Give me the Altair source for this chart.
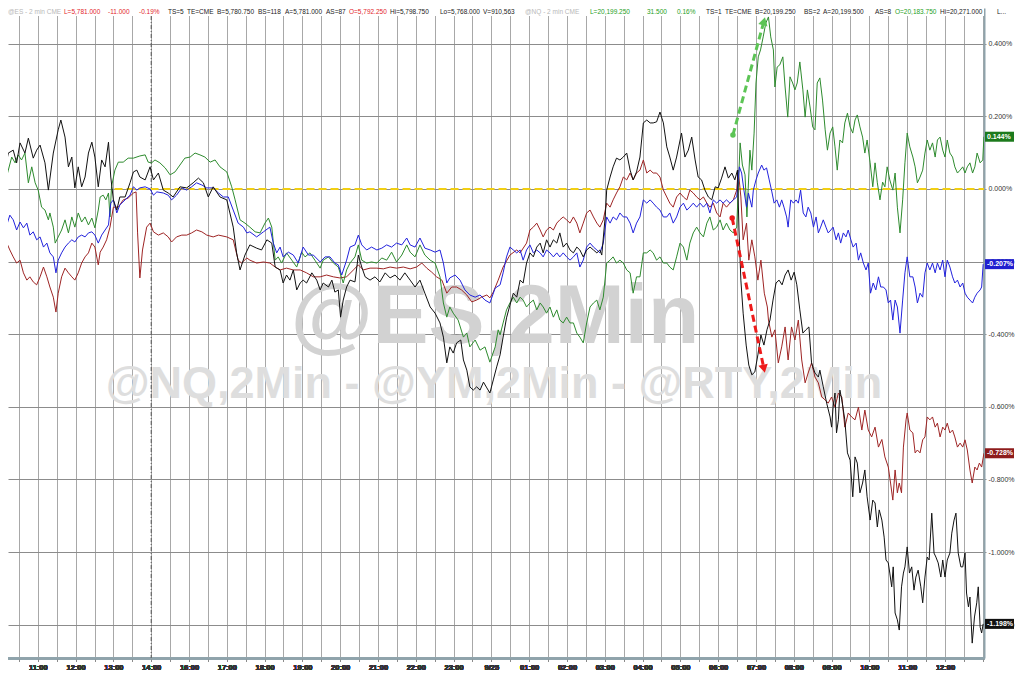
import json
import altair as alt
import pandas as pd

# ---------------- data (time in session hours from 10:00, values in %) ----------------
hour_labels = ["11:00", "12:00", "13:00", "14:00", "16:00", "17:00", "18:00", "19:00", "20:00",
               "21:00", "22:00", "23:00", "9/25", "01:00", "02:00", "03:00", "04:00", "05:00",
               "06:00", "07:00", "08:00", "09:00", "10:00", "11:00", "12:00"]
y_ticks = [0.4, 0.2, 0.0, -0.2, -0.4, -0.6, -0.8, -1.0, -1.2]

rty = [(0.00,-0.003),(0.09,0.033),(0.22,0.099),(0.35,0.107),(0.44,0.072),(0.53,0.127),(0.66,0.099),(0.75,0.140),(0.88,0.085),(0.97,0.107),(1.06,0.121),(1.19,0.072),(1.28,-0.003),(1.41,0.099),(1.54,0.163),(1.61,0.190),(1.72,0.143),(1.81,0.061),(1.90,0.088),(1.98,0.003),(2.07,0.061),(2.16,0.006),(2.25,0.033),(2.34,0.099),(2.43,0.129),(2.51,0.088),(2.60,0.006),(2.69,0.080),(2.78,0.061),(2.87,0.129),(2.93,0.033),(3.00,-0.030),(3.09,-0.058),(3.17,-0.022),(3.31,-0.022),(3.44,0.017),(3.53,0.047),(3.62,0.052),(3.70,0.033),(3.84,0.025),(3.97,0.061),(4.06,0.025),(4.19,0.044),(4.32,-0.003),(4.45,-0.011),(4.58,-0.022),(4.76,0.006),(4.94,0.003),(5.11,0.017),(5.25,0.030),(5.38,0.017),(5.51,-0.022),(5.64,0.006),(5.82,-0.022),(6.00,-0.030),(6.17,-0.105),(6.26,-0.176),(6.35,-0.223),(6.48,-0.182),(6.61,-0.154),(6.79,-0.163),(6.92,-0.168),(7.06,-0.140),(7.19,-0.149),(7.28,-0.215),(7.41,-0.223),(7.49,-0.259),(7.58,-0.237),(7.67,-0.251),(7.76,-0.223),(7.85,-0.278),(7.94,-0.259),(8.02,-0.251),(8.11,-0.259),(8.25,-0.231),(8.38,-0.251),(8.47,-0.278),(8.55,-0.259),(8.69,-0.270),(8.78,-0.251),(8.86,-0.284),(8.95,-0.278),(9.01,-0.353),(9.08,-0.306),(9.17,-0.270),(9.26,-0.251),(9.39,-0.256),(9.48,-0.182),(9.57,-0.215),(9.66,-0.242),(9.79,-0.251),(9.92,-0.242),(10.05,-0.256),(10.19,-0.231),(10.32,-0.245),(10.45,-0.237),(10.58,-0.251),(10.71,-0.231),(10.85,-0.251),(10.98,-0.270),(11.11,-0.251),(11.24,-0.287),(11.38,-0.325),(11.51,-0.342),(11.64,-0.369),(11.73,-0.408),(11.82,-0.479),(11.90,-0.435),(11.99,-0.452),(12.08,-0.424),(12.19,-0.416),(12.26,-0.471),(12.35,-0.499),(12.43,-0.545),(12.52,-0.554),(12.61,-0.545),(12.70,-0.554),(12.79,-0.532),(12.88,-0.548),(12.96,-0.562),(13.05,-0.526),(13.14,-0.490),(13.23,-0.457),(13.31,-0.408),(13.40,-0.355),(13.49,-0.320),(13.58,-0.287),(13.67,-0.298),(13.76,-0.251),(13.84,-0.259),(13.93,-0.204),(14.02,-0.176),(14.11,-0.187),(14.20,-0.160),(14.29,-0.149),(14.37,-0.176),(14.46,-0.140),(14.55,-0.160),(14.64,-0.140),(14.73,-0.149),(14.81,-0.121),(14.90,-0.160),(14.99,-0.149),(15.08,-0.168),(15.17,-0.176),(15.26,-0.160),(15.34,-0.168),(15.43,-0.187),(15.52,-0.168),(15.61,-0.160),(15.70,-0.168),(15.79,-0.176),(15.87,-0.168),(15.92,-0.182),(16.01,-0.077),(16.05,-0.003),(16.14,0.033),(16.22,0.061),(16.31,0.085),(16.40,0.080),(16.49,0.088),(16.58,0.099),(16.67,0.052),(16.75,0.025),(16.84,0.047),(16.93,0.088),(17.02,0.182),(17.11,0.190),(17.20,0.182),(17.28,0.182),(17.37,0.185),(17.46,0.212),(17.55,0.182),(17.64,0.116),(17.72,0.088),(17.81,0.052),(17.90,0.088),(18.03,0.154),(18.12,0.088),(18.21,0.107),(18.30,0.143),(18.39,0.080),(18.47,0.033),(18.56,0.025),(18.65,-0.003),(18.74,-0.022),(18.83,-0.030),(18.92,0.006),(19.00,0.003),(19.09,0.030),(19.18,0.061),(19.27,0.030),(19.36,0.044),(19.44,0.025),(19.51,0.052),(19.55,-0.113),(19.60,-0.251),(19.66,-0.342),(19.74,-0.430),(19.81,-0.485),(19.89,-0.512),(19.97,-0.504),(20.05,-0.457),(20.13,-0.402),(20.21,-0.430),(20.29,-0.388),(20.37,-0.361),(20.45,-0.306),(20.53,-0.259),(20.61,-0.251),(20.69,-0.264),(20.77,-0.237),(20.85,-0.223),(20.93,-0.251),(21.01,-0.229),(21.08,-0.264),(21.16,-0.333),(21.24,-0.397),(21.32,-0.388),(21.40,-0.380),(21.47,-0.479),(21.56,-0.507),(21.65,-0.518),(21.69,-0.499),(21.78,-0.545),(21.87,-0.590),(21.96,-0.628),(22.00,-0.656),(22.04,-0.601),(22.09,-0.562),(22.13,-0.672),(22.18,-0.636),(22.22,-0.554),(22.27,-0.581),(22.35,-0.636),(22.42,-0.727),(22.49,-0.747),(22.56,-0.848),(22.62,-0.738),(22.68,-0.755),(22.75,-0.837),(22.82,-0.810),(22.88,-0.774),(22.94,-0.848),(23.02,-0.912),(23.09,-0.857),(23.15,-0.865),(23.21,-0.931),(23.26,-0.884),(23.33,-0.912),(23.39,-0.959),(23.44,-1.022),(23.50,-1.030),(23.54,-1.058),(23.59,-1.096),(23.63,-1.041),(23.68,-1.168),(23.74,-1.187),(23.79,-1.215),(23.85,-1.096),(23.90,-1.058),(23.94,-1.041),(24.00,-0.986),(24.06,-1.058),(24.12,-1.041),(24.18,-1.105),(24.23,-1.069),(24.29,-1.050),(24.36,-1.096),(24.41,-1.140),(24.47,-1.069),(24.53,-1.014),(24.58,-1.022),(24.65,-0.893),(24.71,-1.003),(24.76,-1.014),(24.82,-1.030),(24.89,-1.069),(24.94,-1.022),(25.00,-1.069),(25.06,-1.022),(25.13,-1.003),(25.18,-0.948),(25.24,-0.912),(25.29,-0.893),(25.35,-1.003),(25.42,-1.041),(25.47,-1.041),(25.53,-1.003),(25.57,-1.113),(25.62,-1.151),(25.66,-1.124),(25.72,-1.251),(25.78,-1.179),(25.84,-1.140),(25.88,-1.096),(25.93,-1.207),(25.97,-1.223),(26.01,-1.198)]

nq = [(0.00,0.003),(0.13,0.017),(0.22,0.052),(0.31,0.088),(0.40,0.072),(0.48,0.094),(0.57,0.080),(0.66,0.099),(0.75,0.017),(0.84,0.061),(0.93,0.017),(1.01,-0.003),(1.10,-0.050),(1.19,-0.058),(1.28,-0.085),(1.32,-0.066),(1.41,-0.105),(1.46,-0.149),(1.54,-0.132),(1.63,-0.113),(1.72,-0.085),(1.81,-0.121),(1.90,-0.077),(1.98,-0.105),(2.07,-0.066),(2.16,-0.091),(2.25,-0.077),(2.34,-0.099),(2.43,-0.080),(2.51,-0.107),(2.60,-0.058),(2.65,-0.022),(2.73,-0.017),(2.80,-0.030),(2.87,-0.011),(2.91,-0.077),(2.95,0.006),(3.04,0.052),(3.13,0.074),(3.26,0.074),(3.39,0.085),(3.53,0.085),(3.70,0.091),(3.84,0.094),(3.92,0.074),(4.01,0.072),(4.10,0.080),(4.23,0.072),(4.37,0.058),(4.50,0.039),(4.63,0.047),(4.76,0.066),(4.89,0.085),(5.03,0.088),(5.16,0.099),(5.29,0.094),(5.42,0.088),(5.56,0.074),(5.69,0.080),(5.82,0.061),(6.00,0.047),(6.13,0.006),(6.22,-0.030),(6.35,-0.085),(6.48,-0.094),(6.61,-0.105),(6.75,-0.118),(6.88,-0.121),(7.01,-0.094),(7.10,-0.080),(7.19,-0.105),(7.28,-0.196),(7.36,-0.187),(7.45,-0.204),(7.58,-0.176),(7.72,-0.196),(7.85,-0.215),(7.98,-0.174),(8.07,-0.187),(8.20,-0.176),(8.33,-0.196),(8.47,-0.218),(8.55,-0.196),(8.69,-0.187),(8.82,-0.204),(8.95,-0.215),(9.08,-0.259),(9.17,-0.223),(9.26,-0.204),(9.39,-0.187),(9.48,-0.154),(9.57,-0.196),(9.70,-0.204),(9.83,-0.201),(9.97,-0.204),(10.10,-0.190),(10.23,-0.196),(10.36,-0.174),(10.49,-0.201),(10.63,-0.182),(10.76,-0.154),(10.85,-0.174),(10.98,-0.187),(11.11,-0.154),(11.24,-0.182),(11.38,-0.196),(11.51,-0.204),(11.64,-0.242),(11.73,-0.314),(11.82,-0.353),(11.90,-0.325),(11.99,-0.342),(12.12,-0.361),(12.26,-0.408),(12.35,-0.397),(12.43,-0.435),(12.57,-0.416),(12.70,-0.444),(12.83,-0.435),(12.96,-0.477),(13.10,-0.435),(13.18,-0.388),(13.23,-0.402),(13.31,-0.369),(13.40,-0.333),(13.49,-0.314),(13.58,-0.298),(13.67,-0.314),(13.76,-0.298),(13.84,-0.306),(13.93,-0.325),(14.02,-0.314),(14.11,-0.306),(14.20,-0.333),(14.29,-0.314),(14.37,-0.325),(14.46,-0.342),(14.55,-0.325),(14.64,-0.353),(14.73,-0.333),(14.81,-0.361),(14.90,-0.369),(14.99,-0.353),(15.08,-0.369),(15.17,-0.369),(15.26,-0.397),(15.34,-0.408),(15.43,-0.424),(15.52,-0.369),(15.61,-0.325),(15.70,-0.314),(15.79,-0.306),(15.87,-0.333),(15.96,-0.298),(16.05,-0.204),(16.14,-0.196),(16.22,-0.187),(16.31,-0.204),(16.40,-0.196),(16.49,-0.204),(16.58,-0.223),(16.67,-0.231),(16.75,-0.287),(16.84,-0.242),(16.93,-0.242),(17.02,-0.176),(17.11,-0.176),(17.20,-0.168),(17.28,-0.176),(17.37,-0.196),(17.46,-0.187),(17.55,-0.204),(17.64,-0.204),(17.72,-0.215),(17.81,-0.223),(17.90,-0.187),(17.99,-0.149),(18.08,-0.160),(18.17,-0.196),(18.25,-0.149),(18.34,-0.121),(18.43,-0.105),(18.52,-0.121),(18.61,-0.132),(18.70,-0.094),(18.78,-0.077),(18.87,-0.113),(18.96,-0.105),(19.05,-0.085),(19.13,-0.113),(19.22,-0.094),(19.31,-0.113),(19.40,-0.121),(19.49,-0.105),(19.58,0.127),(19.64,0.066),(19.71,0.039),(19.76,-0.077),(19.84,0.107),(19.89,0.052),(19.95,0.154),(20.00,0.292),(20.06,0.364),(20.12,0.383),(20.19,0.419),(20.26,0.457),(20.33,0.474),(20.39,0.419),(20.46,0.383),(20.50,0.281),(20.56,0.336),(20.63,0.342),(20.71,0.364),(20.77,0.281),(20.84,0.198),(20.90,0.309),(20.97,0.292),(21.03,0.273),(21.09,0.292),(21.16,0.350),(21.24,0.273),(21.30,0.198),(21.36,0.273),(21.43,0.226),(21.50,0.171),(21.56,0.163),(21.62,0.292),(21.69,0.306),(21.76,0.245),(21.83,0.163),(21.89,0.107),(21.96,0.154),(22.03,0.171),(22.09,0.116),(22.15,0.052),(22.22,0.135),(22.29,0.127),(22.35,0.182),(22.42,0.209),(22.49,0.171),(22.56,0.154),(22.62,0.190),(22.68,0.204),(22.75,0.171),(22.82,0.143),(22.88,0.099),(22.94,0.135),(23.02,0.072),(23.09,0.006),(23.15,0.072),(23.21,0.017),(23.28,-0.030),(23.35,0.019),(23.41,0.006),(23.47,0.061),(23.54,0.025),(23.62,-0.003),(23.68,0.044),(23.74,-0.050),(23.81,-0.121),(23.88,-0.030),(23.94,0.072),(24.00,0.154),(24.07,0.116),(24.15,0.088),(24.21,0.061),(24.27,0.017),(24.34,0.033),(24.41,0.052),(24.47,0.099),(24.53,0.135),(24.60,0.107),(24.67,0.127),(24.74,0.088),(24.80,0.135),(24.87,0.143),(24.94,0.107),(25.00,0.088),(25.06,0.135),(25.13,0.099),(25.20,0.088),(25.26,0.061),(25.33,0.044),(25.40,0.052),(25.47,0.061),(25.53,0.044),(25.59,0.061),(25.66,0.072),(25.73,0.044),(25.79,0.061),(25.85,0.099),(25.93,0.072),(26.00,0.080),(26.03,0.144)]

es = [(0.00,-0.140),(0.09,-0.121),(0.18,-0.099),(0.26,-0.072),(0.35,-0.085),(0.44,-0.113),(0.53,-0.091),(0.62,-0.107),(0.71,-0.094),(0.79,-0.127),(0.88,-0.118),(0.97,-0.140),(1.06,-0.132),(1.15,-0.160),(1.24,-0.149),(1.32,-0.176),(1.41,-0.187),(1.48,-0.231),(1.54,-0.196),(1.63,-0.176),(1.72,-0.160),(1.81,-0.149),(1.90,-0.140),(1.98,-0.146),(2.07,-0.132),(2.16,-0.127),(2.25,-0.132),(2.34,-0.121),(2.43,-0.118),(2.51,-0.127),(2.60,-0.149),(2.69,-0.127),(2.78,-0.113),(2.87,-0.099),(2.93,-0.039),(3.00,-0.030),(3.09,-0.066),(3.17,-0.044),(3.31,-0.030),(3.44,-0.017),(3.53,0.006),(3.62,-0.003),(3.70,0.003),(3.84,0.006),(3.97,0.000),(4.06,-0.017),(4.15,-0.008),(4.32,-0.011),(4.45,-0.017),(4.54,-0.030),(4.67,-0.017),(4.81,0.003),(4.94,-0.003),(5.07,0.006),(5.20,0.017),(5.34,0.011),(5.47,0.003),(5.64,0.003),(5.78,-0.011),(5.91,-0.022),(6.04,-0.022),(6.17,-0.058),(6.30,-0.094),(6.44,-0.105),(6.53,-0.121),(6.61,-0.118),(6.79,-0.132),(6.97,-0.118),(7.14,-0.105),(7.23,-0.149),(7.32,-0.176),(7.41,-0.160),(7.49,-0.187),(7.63,-0.174),(7.76,-0.182),(7.89,-0.204),(8.02,-0.160),(8.16,-0.182),(8.29,-0.182),(8.47,-0.201),(8.60,-0.187),(8.73,-0.187),(8.86,-0.204),(8.95,-0.209),(9.04,-0.237),(9.17,-0.196),(9.26,-0.160),(9.39,-0.154),(9.48,-0.127),(9.57,-0.154),(9.70,-0.168),(9.83,-0.160),(9.97,-0.168),(10.10,-0.163),(10.23,-0.154),(10.36,-0.160),(10.49,-0.149),(10.63,-0.154),(10.76,-0.135),(10.85,-0.154),(10.98,-0.160),(11.11,-0.135),(11.24,-0.163),(11.38,-0.168),(11.51,-0.174),(11.64,-0.168),(11.73,-0.204),(11.82,-0.259),(11.90,-0.245),(12.04,-0.237),(12.17,-0.251),(12.30,-0.278),(12.43,-0.292),(12.57,-0.298),(12.70,-0.292),(12.83,-0.306),(12.96,-0.314),(13.10,-0.273),(13.23,-0.264),(13.31,-0.231),(13.40,-0.187),(13.49,-0.160),(13.58,-0.168),(13.67,-0.176),(13.76,-0.168),(13.84,-0.196),(13.93,-0.168),(14.02,-0.154),(14.11,-0.176),(14.20,-0.168),(14.29,-0.176),(14.37,-0.187),(14.46,-0.168),(14.55,-0.176),(14.64,-0.187),(14.73,-0.176),(14.81,-0.187),(14.90,-0.176),(14.99,-0.187),(15.08,-0.196),(15.17,-0.187),(15.26,-0.176),(15.34,-0.215),(15.43,-0.196),(15.52,-0.160),(15.61,-0.149),(15.70,-0.160),(15.79,-0.168),(15.87,-0.176),(15.96,-0.149),(16.05,-0.077),(16.14,-0.094),(16.22,-0.077),(16.31,-0.085),(16.40,-0.066),(16.49,-0.077),(16.58,-0.077),(16.67,-0.094),(16.75,-0.121),(16.84,-0.094),(16.93,-0.077),(17.02,-0.030),(17.11,-0.039),(17.20,-0.030),(17.28,-0.039),(17.37,-0.050),(17.46,-0.058),(17.55,-0.077),(17.64,-0.077),(17.72,-0.066),(17.81,-0.094),(17.90,-0.077),(17.99,-0.050),(18.08,-0.039),(18.17,-0.058),(18.25,-0.050),(18.34,-0.039),(18.43,-0.050),(18.52,-0.039),(18.61,-0.050),(18.70,-0.039),(18.78,-0.066),(18.87,-0.030),(18.96,-0.039),(19.05,-0.030),(19.13,-0.039),(19.22,-0.030),(19.31,-0.039),(19.40,-0.030),(19.49,-0.022),(19.56,0.061),(19.62,0.044),(19.68,-0.003),(19.75,-0.050),(19.80,-0.011),(19.89,-0.050),(19.93,-0.003),(20.00,0.025),(20.06,0.044),(20.15,0.066),(20.21,0.052),(20.28,0.058),(20.35,0.025),(20.42,-0.008),(20.48,-0.039),(20.55,-0.030),(20.62,-0.050),(20.68,-0.030),(20.74,-0.050),(20.81,-0.077),(20.85,-0.105),(20.92,-0.030),(20.99,-0.039),(21.06,-0.030),(21.12,-0.039),(21.18,-0.003),(21.25,-0.066),(21.32,-0.077),(21.38,-0.050),(21.45,-0.066),(21.52,-0.105),(21.59,-0.077),(21.65,-0.121),(21.71,-0.105),(21.78,-0.085),(21.85,-0.105),(21.91,-0.121),(21.98,-0.113),(22.04,-0.105),(22.12,-0.140),(22.18,-0.121),(22.24,-0.149),(22.31,-0.121),(22.38,-0.132),(22.44,-0.113),(22.51,-0.140),(22.57,-0.160),(22.65,-0.149),(22.71,-0.196),(22.77,-0.176),(22.84,-0.204),(22.91,-0.223),(22.97,-0.204),(23.03,-0.287),(23.10,-0.259),(23.17,-0.278),(23.24,-0.242),(23.30,-0.270),(23.37,-0.270),(23.44,-0.278),(23.50,-0.314),(23.56,-0.306),(23.62,-0.361),(23.68,-0.306),(23.74,-0.325),(23.81,-0.397),(23.88,-0.306),(23.94,-0.231),(24.00,-0.187),(24.07,-0.242),(24.15,-0.242),(24.21,-0.270),(24.27,-0.314),(24.34,-0.287),(24.41,-0.298),(24.47,-0.231),(24.53,-0.204),(24.60,-0.223),(24.67,-0.204),(24.74,-0.231),(24.80,-0.204),(24.87,-0.223),(24.94,-0.196),(25.00,-0.242),(25.06,-0.196),(25.13,-0.215),(25.20,-0.242),(25.26,-0.259),(25.33,-0.251),(25.40,-0.270),(25.47,-0.259),(25.53,-0.287),(25.59,-0.298),(25.66,-0.306),(25.73,-0.314),(25.79,-0.298),(25.85,-0.287),(25.93,-0.278),(25.97,-0.270),(26.01,-0.207)]

ym = [(0.00,-0.215),(0.09,-0.187),(0.18,-0.149),(0.26,-0.168),(0.35,-0.187),(0.44,-0.204),(0.53,-0.196),(0.62,-0.231),(0.71,-0.251),(0.79,-0.242),(0.88,-0.256),(0.97,-0.264),(1.06,-0.242),(1.15,-0.215),(1.24,-0.242),(1.32,-0.270),(1.41,-0.298),(1.48,-0.339),(1.54,-0.287),(1.63,-0.242),(1.72,-0.218),(1.81,-0.231),(1.90,-0.242),(1.98,-0.251),(2.07,-0.231),(2.16,-0.204),(2.25,-0.187),(2.34,-0.176),(2.43,-0.149),(2.51,-0.160),(2.60,-0.209),(2.65,-0.174),(2.73,-0.160),(2.82,-0.140),(2.91,-0.105),(3.00,-0.050),(3.13,-0.050),(3.26,-0.030),(3.39,-0.025),(3.53,-0.011),(3.60,-0.008),(3.64,-0.121),(3.70,-0.245),(3.77,-0.168),(3.88,-0.105),(3.97,-0.094),(4.06,-0.118),(4.19,-0.127),(4.32,-0.121),(4.45,-0.132),(4.54,-0.146),(4.67,-0.132),(4.81,-0.127),(4.94,-0.127),(5.07,-0.121),(5.20,-0.113),(5.34,-0.118),(5.47,-0.127),(5.64,-0.132),(5.78,-0.127),(6.00,-0.132),(6.17,-0.140),(6.30,-0.196),(6.39,-0.204),(6.53,-0.190),(6.61,-0.196),(6.79,-0.204),(6.97,-0.201),(7.14,-0.204),(7.28,-0.215),(7.41,-0.223),(7.58,-0.218),(7.76,-0.223),(7.94,-0.223),(8.11,-0.231),(8.29,-0.242),(8.47,-0.242),(8.64,-0.237),(8.82,-0.242),(8.99,-0.245),(9.17,-0.242),(9.35,-0.223),(9.48,-0.209),(9.61,-0.223),(9.79,-0.218),(9.97,-0.218),(10.14,-0.220),(10.32,-0.215),(10.49,-0.218),(10.67,-0.215),(10.85,-0.220),(11.02,-0.215),(11.16,-0.204),(11.29,-0.218),(11.42,-0.229),(11.55,-0.242),(11.69,-0.251),(11.82,-0.287),(11.95,-0.270),(12.08,-0.270),(12.21,-0.278),(12.35,-0.292),(12.48,-0.311),(12.61,-0.306),(12.74,-0.298),(12.88,-0.292),(12.96,-0.300),(13.05,-0.284),(13.18,-0.251),(13.31,-0.215),(13.49,-0.182),(13.67,-0.168),(13.76,-0.176),(13.93,-0.149),(14.02,-0.113),(14.11,-0.105),(14.20,-0.094),(14.29,-0.113),(14.37,-0.132),(14.46,-0.113),(14.55,-0.105),(14.64,-0.113),(14.73,-0.094),(14.81,-0.085),(14.90,-0.077),(14.99,-0.085),(15.08,-0.094),(15.17,-0.077),(15.26,-0.094),(15.34,-0.121),(15.43,-0.094),(15.52,-0.066),(15.61,-0.058),(15.70,-0.077),(15.79,-0.094),(15.87,-0.105),(15.96,-0.085),(16.05,-0.039),(16.14,-0.050),(16.22,-0.030),(16.31,-0.011),(16.40,0.006),(16.49,0.033),(16.58,0.025),(16.67,0.044),(16.75,0.025),(16.84,0.044),(16.93,0.052),(17.02,0.080),(17.11,0.044),(17.20,0.052),(17.28,0.044),(17.37,0.044),(17.46,0.033),(17.55,-0.003),(17.64,-0.022),(17.72,-0.039),(17.81,-0.050),(17.90,-0.022),(17.99,-0.011),(18.08,-0.022),(18.17,-0.030),(18.25,-0.003),(18.34,-0.011),(18.43,-0.022),(18.52,-0.030),(18.61,-0.022),(18.70,-0.039),(18.78,-0.050),(18.87,-0.039),(18.96,-0.066),(19.05,-0.077),(19.13,-0.039),(19.22,-0.050),(19.31,-0.039),(19.40,-0.030),(19.49,-0.003),(19.53,0.052),(19.60,-0.022),(19.66,-0.140),(19.75,-0.094),(19.81,-0.196),(19.89,-0.140),(19.97,-0.187),(20.05,-0.251),(20.13,-0.196),(20.22,-0.287),(20.30,-0.325),(20.33,-0.361),(20.42,-0.408),(20.50,-0.388),(20.59,-0.479),(20.68,-0.435),(20.77,-0.380),(20.85,-0.471),(20.94,-0.380),(21.03,-0.416),(21.12,-0.361),(21.21,-0.471),(21.30,-0.534),(21.38,-0.507),(21.47,-0.479),(21.56,-0.518),(21.65,-0.534),(21.74,-0.573),(21.83,-0.581),(21.91,-0.590),(22.00,-0.573),(22.09,-0.601),(22.18,-0.562),(22.27,-0.573),(22.35,-0.656),(22.44,-0.617),(22.53,-0.628),(22.62,-0.636),(22.71,-0.601),(22.80,-0.664),(22.88,-0.609),(22.97,-0.664),(23.06,-0.683),(23.15,-0.656),(23.24,-0.711),(23.33,-0.690),(23.41,-0.738),(23.50,-0.766),(23.56,-0.810),(23.62,-0.857),(23.68,-0.774),(23.74,-0.837),(23.79,-0.810),(23.85,-0.837),(23.90,-0.711),(23.97,-0.636),(24.00,-0.617),(24.07,-0.664),(24.15,-0.672),(24.21,-0.727),(24.27,-0.719),(24.34,-0.727),(24.41,-0.691),(24.47,-0.683),(24.53,-0.628),(24.60,-0.636),(24.67,-0.628),(24.74,-0.656),(24.80,-0.645),(24.87,-0.683),(24.94,-0.656),(25.00,-0.664),(25.06,-0.645),(25.13,-0.672),(25.20,-0.664),(25.26,-0.683),(25.33,-0.711),(25.40,-0.700),(25.47,-0.711),(25.53,-0.691),(25.59,-0.719),(25.66,-0.774),(25.72,-0.810),(25.79,-0.766),(25.85,-0.774),(25.91,-0.755),(25.97,-0.766),(26.03,-0.728)]

series_names = ["YM", "NQ", "ES", "RTY"]
series_data = {"YM": ym, "NQ": nq, "ES": es, "RTY": rty}
series_colors = {"YM": "#9e2424", "NQ": "#2e8b2e", "ES": "#2222dd", "RTY": "#111111"}

last_labels = ["0.144%", "-0.207%", "-0.728%", "-1.198%"]
last_values = [0.144, -0.207, -0.728, -1.198]
last_colors = ["#1c7a1c", "#1f1fd0", "#8e1c1c", "#111111"]

header_text = ["@ES - 2 min CME", "L=5,781.000", "-11.000", "-0.19%", "TS=5", "TE=CME", "B=5,780.750",
               "BS=118", "A=5,781.000", "AS=87", "O=5,792.250", "Hi=5,798.750", "Lo=5,768.000",
               "V=910,563", "@NQ - 2 min CME", "L=20,199.250", "31.500", "0.16%", "TS=1", "TE=CME",
               "B=20,199.250", "BS=2", "A=20,199.500", "AS=8", "O=20,183.750", "Hi=20,271.000", "L..."]
header_kind = ["g", "r", "r", "r", "k", "k", "k", "k", "k", "k", "r", "k", "k", "k",
               "g", "n", "n", "n", "k", "k", "k", "k", "k", "k", "n", "k", "k"]
header_x = [0, 56, 100, 131, 160, 179, 209, 250, 277, 318, 341, 382, 432, 475,
            517, 582, 639, 669, 698, 717, 747, 796, 815, 867, 887, 932, 989]
kind_color = {"g": "#b8b8b8", "r": "#e3262b", "k": "#222222", "n": "#25a025"}

zero_line = pd.DataFrame({"t": [3.03], "t2": [26.03], "v": [0.0]})
dash_line = pd.DataFrame({"t": [4.0]})
green_arrow = pd.DataFrame({"t": [19.39, 20.21], "v": [0.149, 0.462]})
red_arrow = pd.DataFrame({"t": [19.37, 20.21], "v": [-0.080, -0.495]})

# ---------------- scales / axes ----------------
xscale = alt.Scale(domain=[0.2116, 26.032], nice=False, zero=False)
yscale = alt.Scale(domain=[-1.2920, 0.4986], nice=False, zero=False)

label_arr = json.dumps(hour_labels)
xaxis = alt.Axis(
    values=[i * 0.5 for i in range(1, 53)],
    labelExpr=f"(datum.value % 1 == 0 && datum.value >= 1 && datum.value <= {len(hour_labels)}) ? {label_arr}[datum.value - 1] : ''",
    grid=True, gridColor="#a8a8a8", gridWidth=1,
    tickColor="#8a8a8a", tickSize=3, domainColor="#8fa3ab", domainWidth=2,
    labelFont="Liberation Sans", labelFontSize=7.5, labelFontWeight="bold", labelColor="#333333",
    labelPadding=2, labelOverlap=False, labelFlush=False, title=None, orient="bottom")
yaxis = alt.Axis(
    values=y_ticks, orient="right",
    labelExpr="replace(format(datum.value, '.3f'), '\u2212', '-') + '%'",
    grid=True, gridColor="#8c8c8c", gridWidth=1, tickColor="#8c8c8c", tickSize=2,
    domainColor="#8fa3ab", domainWidth=2, labelFont="Liberation Sans", labelFontSize=7,
    labelColor="#333333", labelPadding=2, title=None)

X = lambda f="t": alt.X(f"{f}:Q", scale=xscale, axis=xaxis)
Y = lambda f="v": alt.Y(f"{f}:Q", scale=yscale, axis=yaxis)

layers = []

# white header band over the grid
layers.append(alt.Chart(pd.DataFrame({"k": [0]})).mark_rect(color="white").encode(
    x=alt.value(0), x2=alt.value(976), y=alt.value(0), y2=alt.value(8)))

# watermarks
layers.append(alt.Chart(pd.DataFrame({"s": ["@ES,2Min"]})).mark_text(
    font="Liberation Sans", fontSize=84, fontWeight="bold", color="#d2d2d2",
    align="center", baseline="alphabetic").encode(
    text="s:N", x=alt.value(487), y=alt.value(335)))
layers.append(alt.Chart(pd.DataFrame({"s": ["@NQ,2Min - @YM,2Min - @RTY,2Min"]})).mark_text(
    font="Liberation Sans", fontSize=45, fontWeight="bold", color="#dedede",
    align="center", baseline="alphabetic").encode(
    text="s:N", x=alt.value(486), y=alt.value(390)))

# dashed 14:00 line + zero line
layers.append(alt.Chart(dash_line).mark_rule(color="#555555", strokeWidth=1, strokeDash=[4, 2, 1, 2]).encode(
    x=X(), y=alt.value(8), y2=alt.value(650)))
layers.append(alt.Chart(zero_line).mark_rule(color="#f2cf12", strokeWidth=2, strokeDash=[8, 4]).encode(
    x=X(), x2="t2:Q", y=Y()))

# series
for name in series_names:
    pts = series_data[name]
    df = pd.DataFrame({"t": [p[0] for p in pts], "v": [p[1] for p in pts]})
    layers.append(alt.Chart(df).mark_line(color=series_colors[name], strokeWidth=1, clip=True).encode(
        x=X(), y=Y(), order="t:Q"))

# arrows
for df, col, ang in [(green_arrow, "#5cc455", 15), (red_arrow, "#ee1a1a", 168)]:
    layers.append(alt.Chart(df).mark_line(color=col, strokeWidth=3, strokeDash=[7, 4]).encode(x=X(), y=Y()))
    layers.append(alt.Chart(df.iloc[[0]]).mark_circle(color=col, size=30, opacity=1).encode(x=X(), y=Y()))
    layers.append(alt.Chart(df.iloc[[1]]).mark_point(shape="triangle-up", filled=True, color=col, size=90,
                                                     angle=ang, opacity=1).encode(x=X(), y=Y()))

# last value tags
tags = pd.DataFrame({"v": last_values, "lab": last_labels, "c": last_colors})
layers.append(alt.Chart(tags).transform_calculate(v1="datum.v + 0.0138", v2="datum.v - 0.0138").mark_rect().encode(
    x=alt.value(977), x2=alt.value(1006), y=Y("v1"), y2="v2:Q",
    color=alt.Color("c:N", scale=None)))
layers.append(alt.Chart(tags).mark_text(font="Liberation Sans", fontSize=7, fontWeight="bold", color="white",
                                        align="left", baseline="middle").encode(
    x=alt.value(979), y=Y(), text="lab:N"))

# header
hdr = pd.DataFrame({"s": header_text, "x": header_x, "c": [kind_color[k] for k in header_kind]})
layers.append(alt.Chart(hdr).mark_text(font="Liberation Sans", fontSize=6.5, align="left", baseline="top").encode(
    x=alt.X("x:Q", scale=alt.Scale(domain=[0, 976], range=[0, 976]), axis=None),
    y=alt.value(1), text="s:N", color=alt.Color("c:N", scale=None)))

chart = alt.layer(*layers).resolve_scale(x="independent").properties(
    width=976, height=650, autosize="none",
    padding={"left": 0, "top": 0, "right": 32, "bottom": 14},
    background="white"
).configure_view(stroke=None)

chart.save("out.html", embed_options={"renderer": "svg", "actions": False})
